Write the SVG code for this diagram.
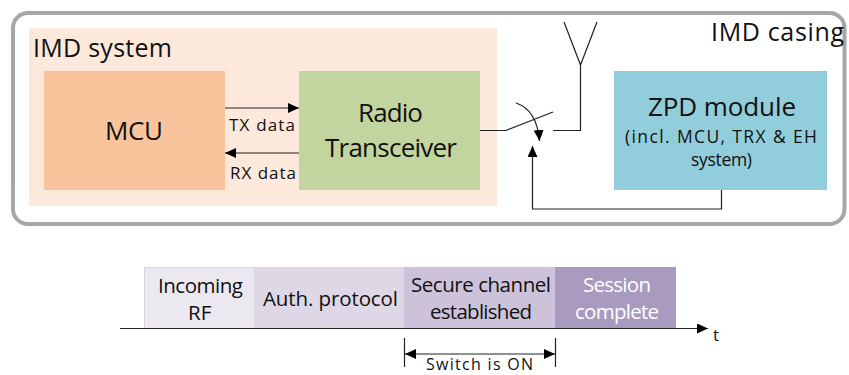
<svg xmlns="http://www.w3.org/2000/svg" width="849" height="375" viewBox="0 0 849 375">
<style>
text{font-family:"Open Sans","Liberation Sans",sans-serif;font-weight:400;fill:#111;text-anchor:start}
.l{font-size:26px}.m{font-size:25px}.n{font-size:17px}.s{font-size:17.500px}.t{font-size:20.500px}
.w{fill:none;stroke:#222;stroke-width:1.2}
</style>
<defs>
<marker id="a" viewBox="0 0 11 10" refX="11" refY="5" markerWidth="11" markerHeight="10" markerUnits="userSpaceOnUse" orient="auto-start-reverse"><path d="M0 0L11 5L0 10Z" fill="#000"/></marker>
</defs>
<rect id="casing" x="13" y="13" width="831.500" height="211" rx="15" fill="#fff" stroke="#a6a6a6" stroke-width="4"/>
<g id="imd-system"><rect x="29" y="28" width="468" height="178" fill="#fce9dc"/><text class="m" x="33" y="57" textLength="139">IMD system</text></g>
<g id="mcu"><rect x="44" y="71" width="181" height="119" fill="#f9c49b"/><text class="l" x="105" y="140" textLength="58">MCU</text></g>
<g id="radio"><rect x="299" y="71" width="181" height="119" fill="#c3d59e"/><text class="l" x="358" y="122" textLength="65">Radio</text><text class="l" x="325" y="157" textLength="132">Transceiver</text></g>
<g id="zpd"><rect x="614" y="71" width="213" height="119" fill="#92cddc"/><text class="l" x="648" y="116" textLength="148">ZPD module</text><text class="s" x="625" y="143" textLength="192">(incl. MCU, TRX &amp; EH</text><text class="s" x="691" y="166" textLength="61">system)</text></g>
<g id="casing-label"><text class="m" x="711" y="41" textLength="133">IMD casing</text></g>
<g id="lbl-tx"><text class="n" x="229" y="131" textLength="66">TX data</text></g>
<g id="lbl-rx"><text class="n" x="230" y="179" textLength="66">RX data</text></g>
<g id="seg1"><rect x="144.500" y="267.500" width="110" height="61" fill="#ebe8f0" stroke="#d6d0e2" stroke-width="1"/><text class="t" x="158" y="293" textLength="85">Incoming</text><text class="t" x="188" y="320">RF</text></g>
<g id="seg2"><rect x="254.500" y="267" width="150" height="61.500" fill="#ddd7e6"/><text class="t" x="263" y="306" textLength="135">Auth. protocol</text></g>
<g id="seg3"><rect x="404" y="267" width="151" height="61.500" fill="#ccc2da"/><text class="t" x="411" y="292" textLength="140">Secure channel</text><text class="t" x="430" y="319" textLength="102">established</text></g>
<g id="seg4"><rect x="555" y="267" width="121" height="61.500" fill="#a99bc0"/><text class="t" x="583" y="292" textLength="68" style="fill:#fff">Session</text><text class="t" x="575" y="319" textLength="84" style="fill:#fff">complete</text></g>
<g id="lbl-t"><text class="n" x="713" y="341">t</text></g>
<g id="lbl-on"><text class="n" style="font-size:16px" x="426" y="370" textLength="107">Switch is ON</text></g>
<g id="connectors">
<path class="w" d="M225 108H299" marker-end="url(#a)"/>
<path class="w" d="M299 153H225" marker-end="url(#a)"/>
<path class="w" d="M480 130.500H506L553 112"/>
<path class="w" d="M553 130.500H580.500V65M564 22L580.500 65L597 22"/>
<path class="w" d="M516 103Q537 110 539.500 141" marker-end="url(#a)"/>
<path class="w" d="M721.500 190V209H532.500V146" marker-end="url(#a)"/>
<path class="w" d="M120 328.500H708" marker-end="url(#a)"/>
<path class="w" d="M404.500 338V367M555.500 338V367"/>
<path class="w" d="M405 354H555" marker-start="url(#a)" marker-end="url(#a)"/>
</g>
</svg>
